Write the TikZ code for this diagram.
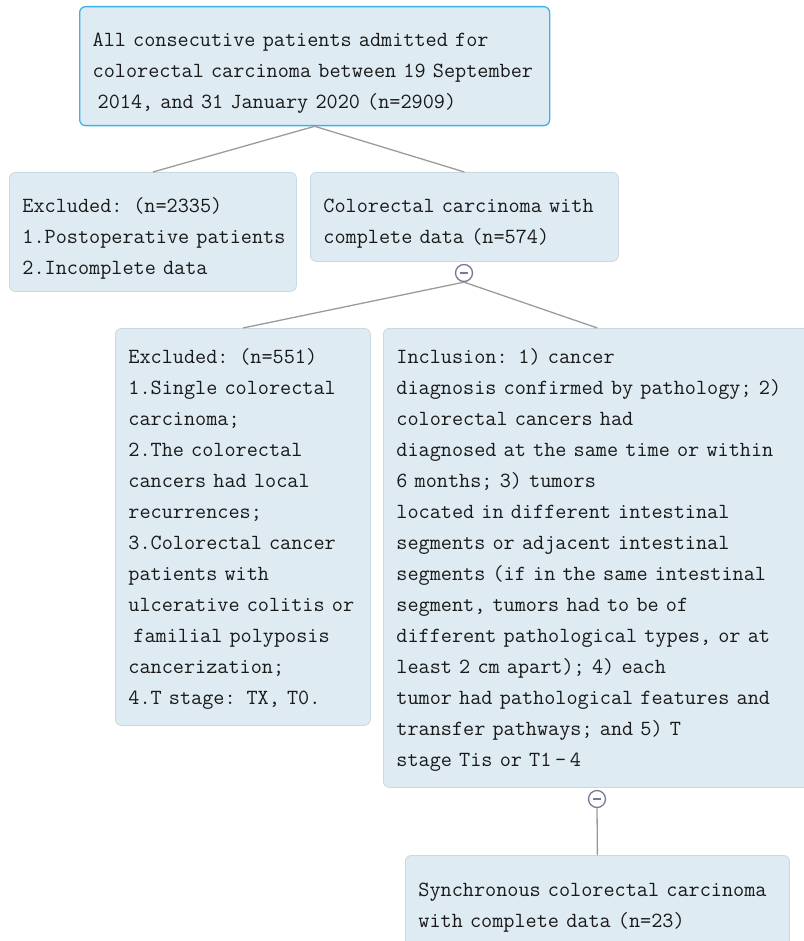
\documentclass[tikz,border=0pt]{standalone}
\usepackage{fontspec}
\usetikzlibrary{positioning}

\definecolor{boxfill}{RGB}{222,235,243}
\definecolor{boxline}{RGB}{202,216,226}
\definecolor{topline}{RGB}{62,178,230}
\definecolor{linkgray}{RGB}{155,155,155}
\definecolor{tglgray}{RGB}{118,122,148}
\definecolor{txt}{RGB}{25,25,25}

% monospaced text, one character about 10.8pt
\newcommand{\flowstyle}{\ttfamily\fontsize{21.6}{31}\selectfont}
% lines kept as given, never rewrapped
\newcommand{\flowlines}[1]{\begin{tabular}{@{}l@{}}#1\end{tabular}}
\newcommand{\padtop}{\rule{0pt}{32pt}}
\newcommand{\padsmall}{\rule{0pt}{24pt}}

\begin{document}
\begin{tikzpicture}[x=1pt, y=-1pt,
  every node/.style={font=\flowstyle, text=txt},
  flowbox/.style={draw=boxline, fill=boxfill, rounded corners=6pt, anchor=north west,
    align=left, inner xsep=13pt, inner ysep=0pt, line width=0.8pt},
  link/.style={draw=linkgray, line width=1.3pt},
  toggle/.style={circle, draw=tglgray, fill=white, line width=1.3pt, minimum size=17pt,
    inner sep=0pt, path picture={\draw[tglgray, line width=1.5pt]
      ([xshift=-4pt]path picture bounding box.center) -- ([xshift=4pt]path picture bounding box.center);}}]
  \useasboundingbox (0,0) rectangle (803,941);

  % boxes
  \node[flowbox, draw=topline, line width=1.3pt, text width=444pt, minimum height=119pt] (all) at (79,6)
    {\flowlines{\padtop All consecutive patients admitted for\\
     colorectal carcinoma between 19 September\\
     \hspace*{5pt}2014, and 31 January 2020 (n=2909)}};
  \node[flowbox, text width=261pt, minimum height=119pt] (exA) at (9,172)
    {\flowlines{\padtop Excluded: (n=2335)\\1.Postoperative patients\\2.Incomplete data}};
  \node[flowbox, text width=282pt, minimum height=89pt] (comp) at (310,172)
    {\flowlines{\padtop Colorectal carcinoma with\\complete data (n=574)}};
  \node[flowbox, text width=229pt, minimum height=397pt] (exB) at (115,328)
    {\flowlines{\padsmall Excluded: (n=551)\\1.Single colorectal\\carcinoma;\\2.The colorectal\\
     cancers had local\\recurrences;\\3.Colorectal cancer\\patients with\\
     ulcerative colitis or\\\hspace*{5pt}familial polyposis\\cancerization;\\4.T stage: TX, T0.}};
  \node[flowbox, text width=402pt, minimum height=459pt] (incl) at (383,328)
    {\flowlines{\padsmall Inclusion: 1) cancer\\
     diagnosis confirmed by pathology; 2)\\
     colorectal cancers had\\
     diagnosed at the same time or within\\
     6 months; 3) tumors\\
     located in different intestinal\\
     segments or adjacent intestinal\\
     segments (if in the same intestinal\\
     segment, tumors had to be of\\
     different pathological types, or at\\
     least 2 cm apart); 4) each\\
     tumor had pathological features and\\
     transfer pathways; and 5) T\\
     stage Tis or T1\,–\,4}};
  \node[flowbox, text width=358pt, minimum height=100pt] (sync) at (405,855)
    {\flowlines{Synchronous colorectal carcinoma\\with complete data (n=23)}};

  % collapse marks
  \node[toggle] (tgl1) at (464,273) {};
  \node[toggle] (tgl2) at (597,799) {};

  \draw[link] (all.south) -- (exA.north);
  \draw[link] (all.south) -- (comp.north);
  \draw[link] (tgl1.south) -- (exB.north);
  \draw[link] (tgl1.south) -- (incl.north);
  \draw[link] (tgl2.south) -- (sync.north);
\end{tikzpicture}
\end{document}
